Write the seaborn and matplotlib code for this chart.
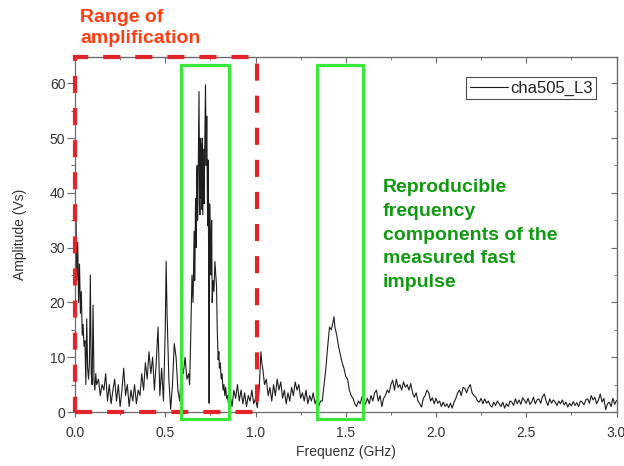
import matplotlib
matplotlib.use("Agg")
import matplotlib.pyplot as plt
import seaborn as sns
import pandas as pd
from matplotlib.patches import Rectangle
from matplotlib.ticker import MultipleLocator

# ---------------- data ----------------
freq_a = [0.000, 0.005, 0.010, 0.015, 0.020, 0.025, 0.030, 0.035, 0.040, 0.045,
          0.050, 0.055, 0.060, 0.065, 0.070, 0.075, 0.080, 0.085, 0.090, 0.095,
          0.100, 0.105, 0.110, 0.115, 0.120]
amp_a = [22, 38, 24, 31, 20, 27, 18, 22, 14, 16,
         12, 13, 5, 17, 8, 6, 9, 25, 7, 5,
         19.5, 6, 4, 7, 5]

freq_b = [0.13, 0.14, 0.15, 0.16, 0.17, 0.18, 0.19, 0.20, 0.21, 0.22, 0.23, 0.24,
          0.25, 0.26, 0.27, 0.28, 0.29, 0.30, 0.31, 0.32, 0.33, 0.34, 0.35, 0.36,
          0.37, 0.38, 0.39, 0.40, 0.41, 0.42, 0.43, 0.44, 0.45, 0.46, 0.47, 0.48,
          0.49, 0.50, 0.505, 0.51, 0.52, 0.53, 0.54, 0.55, 0.56, 0.57, 0.58, 0.59,
          0.60, 0.61, 0.62, 0.63]
amp_b = [6, 3, 5, 4, 7, 2, 5, 1.5, 4, 6, 2, 5,
         1, 4, 8, 3, 5, 1, 4, 2, 5, 1.5, 4, 3,
         7, 4, 9, 6, 11, 7, 10, 4, 9, 15.5, 3, 8,
         2, 15, 27.5, 18, 6, 0.5, 5, 12.5, 10, 4, 2, 8,
         7, 10, 6, 7]

freq_c = [0.635, 0.640, 0.648, 0.654, 0.660, 0.663, 0.665, 0.667, 0.669, 0.671,
          0.673, 0.675, 0.677, 0.679, 0.681, 0.684, 0.687, 0.690, 0.692, 0.693,
          0.695, 0.696, 0.698, 0.700, 0.702, 0.703, 0.705, 0.706, 0.708, 0.710,
          0.712, 0.713, 0.715, 0.716, 0.718, 0.720, 0.723, 0.727, 0.730, 0.733,
          0.735, 0.737, 0.740, 0.743, 0.746, 0.750, 0.754, 0.757, 0.760, 0.765,
          0.770, 0.775, 0.780, 0.784, 0.788, 0.793, 0.797, 0.800, 0.805, 0.810,
          0.815, 0.820, 0.825, 0.830, 0.835, 0.840, 0.845, 0.850, 0.855]
amp_c = [5, 12, 25, 20, 33, 24, 28, 37, 39, 30,
         36, 44, 45, 35, 38, 48, 58.5, 42, 36, 50,
         39, 44, 49, 47, 37, 40, 50, 46, 36, 41,
         47, 48, 38, 43, 45, 52, 59.7, 45, 54, 40,
         34, 46, 30, 1.6, 38, 32, 25, 35, 20, 24,
         22, 27.5, 25, 23, 15, 9.5, 11, 8, 9, 6,
         7, 4, 5, 3, 4.5, 2.5, 3, 1.5, 2]

freq_d = [0.86, 0.87, 0.88, 0.89, 0.90, 0.91, 0.92, 0.93, 0.94, 0.95, 0.96, 0.97,
          0.98, 0.99, 1.00, 1.01, 1.02, 1.03, 1.035, 1.04, 1.05, 1.06, 1.07, 1.08,
          1.09, 1.10, 1.11, 1.12, 1.13, 1.14, 1.15, 1.16, 1.17, 1.18, 1.19, 1.20,
          1.21, 1.22, 1.23, 1.24, 1.25, 1.26, 1.27, 1.28, 1.29, 1.30, 1.31, 1.32,
          1.33, 1.34, 1.35, 1.36, 1.37]
amp_d = [3, 1, 4, 2.5, 5, 2, 4, 1.5, 3.5, 1, 3, 2,
         4, 1.5, 2.5, 0.8, 4, 11, 9, 8, 5, 6, 3, 4.5,
         2, 5, 3, 6, 4, 5.5, 2.5, 4, 1.5, 3.5, 2, 4.5,
         3, 5.5, 4, 5, 2.5, 3.5, 2, 4, 1.5, 3, 2, 3.5,
         1.5, 2.5, 1, 2, 2]

freq_e = [1.38, 1.39, 1.40, 1.41, 1.42, 1.43, 1.435, 1.44, 1.45, 1.46, 1.47, 1.48,
          1.49, 1.50, 1.51, 1.52, 1.53, 1.54, 1.55, 1.56, 1.57, 1.58, 1.59, 1.60]
amp_e = [5, 8, 12, 15.5, 15, 16.5, 17.4, 15.5, 14, 12, 10.5, 9,
         8, 6.5, 6, 4, 3, 2.5, 1.5, 1, 2, 1.5, 2.8, 1]

freq_f = [1.61, 1.62, 1.63, 1.64, 1.65, 1.66, 1.67, 1.68, 1.69, 1.70, 1.71, 1.72,
          1.73, 1.74, 1.75, 1.76, 1.77, 1.78, 1.79, 1.80, 1.81, 1.82, 1.83, 1.84,
          1.85, 1.86, 1.87, 1.88, 1.89, 1.90, 1.91, 1.92, 1.93, 1.94, 1.95, 1.96,
          1.97, 1.98, 1.99, 2.00, 2.01, 2.02, 2.03, 2.04, 2.05, 2.06, 2.07, 2.08,
          2.09, 2.10, 2.11, 2.12, 2.13, 2.14, 2.15, 2.16, 2.17, 2.18, 2.19, 2.20,
          2.21, 2.22, 2.23, 2.24, 2.25, 2.26, 2.27, 2.28, 2.29, 2.30]
amp_f = [1.6, 2.5, 1.5, 3, 2, 3.5, 4, 2, 3, 1, 2.5, 3,
         4, 3.5, 5, 5.8, 4, 6, 4.5, 5, 4, 5.5, 4.5, 5,
         4, 5.2, 3.5, 2.7, 3.5, 2, 1.5, 0.9, 2.5, 3, 4, 3.5,
         2, 2.6, 1.5, 2.5, 1.6, 2, 1, 1.8, 1, 1.5, 0.8, 1.6,
         0.7, 1.8, 2.5, 3.5, 4, 3, 4.5, 4.3, 3.5, 4.5, 5, 3.5,
         3, 2.7, 2, 1.8, 2.5, 1.5, 2.4, 1.6, 2, 1.2]

freq_g = [2.31, 2.32, 2.33, 2.34, 2.35, 2.36, 2.37, 2.38, 2.39, 2.40, 2.41, 2.42,
          2.43, 2.44, 2.45, 2.46, 2.47, 2.48, 2.49, 2.50, 2.51, 2.52, 2.53, 2.54,
          2.55, 2.56, 2.57, 2.58, 2.59, 2.60, 2.61, 2.62, 2.63, 2.64, 2.65, 2.66,
          2.67, 2.68, 2.69, 2.70, 2.71, 2.72, 2.73, 2.74, 2.75, 2.76, 2.77, 2.78,
          2.79, 2.80, 2.81, 2.82, 2.83, 2.84, 2.85, 2.86, 2.87, 2.88, 2.89, 2.90,
          2.91, 2.92, 2.93, 2.94, 2.95, 2.96, 2.97, 2.98, 2.99, 3.00]
amp_g = [0.9, 1.8, 1.2, 2, 1.5, 1, 1.8, 0.7, 1.5, 1, 2, 1.8,
         1.2, 2.4, 1.5, 2.2, 1.4, 2.6, 2.1, 1.6, 2.5, 1.4, 1.8, 2.7,
         1.5, 2.2, 2.4, 1.6, 2.8, 3.3, 2.0, 1.2, 2.4, 1.6, 2.2, 1.8,
         1.2, 2.0, 1.5, 2.2, 1.3, 1.8, 0.9, 1.6, 1.1, 1.9, 1.2, 1.7,
         1.0, 2.0, 1.8, 1.3, 2.2, 2.4, 1.6, 3.0, 2.2, 2.7, 1.5, 2.2,
         3.3, 1.8, 2.5, 0.4, 1.5, 1.8, 1.0, 2.5, 1.4, 2.1]

series_name = "cha505_L3"
x_label = "Frequenz (GHz)"
y_label = "Amplitude (Vs)"
amp_range = (0.0, 1.01)        # red dashed box (GHz)
comp_ranges = [(0.586, 0.854), (1.338, 1.593)]   # green boxes (GHz)
note_red = "Range of\namplification"
note_green = "Reproducible\nfrequency\ncomponents of the\nmeasured fast\nimpulse"

freq = freq_a + freq_b + freq_c + freq_d + freq_e + freq_f + freq_g
amp = amp_a + amp_b + amp_c + amp_d + amp_e + amp_f + amp_g
df = pd.DataFrame({"freq": freq, "amp": amp})

# ---------------- plot ----------------
sns.set_style("ticks")
plt.rcParams["font.family"] = ["Liberation Sans", "DejaVu Sans"]

fig = plt.figure(figsize=(6.24, 4.66), dpi=100)
ax = fig.add_axes([75 / 624, 54 / 466, 541.5 / 624, 355 / 466])

sns.lineplot(data=df, x="freq", y="amp", ax=ax, color="#1e1e1e", lw=0.8,
             estimator=None, sort=False, label=series_name)

ax.set_xlim(0, 3.0)
ax.set_ylim(0, 64.8)
ax.xaxis.set_minor_locator(MultipleLocator(0.25))
ax.yaxis.set_minor_locator(MultipleLocator(5))
ax.set_xticks([0, 0.5, 1.0, 1.5, 2.0, 2.5, 3.0])
ax.set_xticklabels(["0.0", "0.5", "1.0", "1.5", "2.0", "2.5", "3.0"])
ax.set_yticks([0, 10, 20, 30, 40, 50, 60])
ax.set_yticklabels(["0", "10", "20", "30", "40", "50", "60"])

spine_col = "#6a6a6a"
for s in ax.spines.values():
    s.set_color(spine_col)
    s.set_linewidth(0.9)
ax.tick_params(which="both", color=spine_col, direction="out")
ax.tick_params(axis="x", which="major", length=3.5, width=0.8,
               labelsize=10, labelcolor="#333333", pad=6.5)
ax.tick_params(axis="x", which="minor", length=2.5, width=0.7)
ax.tick_params(axis="y", which="major", length=5.5, width=0.8,
               labelsize=10, labelcolor="#333333", pad=1.5)
ax.tick_params(axis="y", which="minor", length=3, width=0.7)

top = ax.secondary_xaxis("top")
top.xaxis.set_major_locator(MultipleLocator(0.5))
top.xaxis.set_minor_locator(MultipleLocator(0.25))
top.tick_params(which="both", direction="in", labeltop=False, color=spine_col)
top.tick_params(which="major", length=4)
top.tick_params(which="minor", length=2.5)
top.spines["top"].set_color(spine_col)
right = ax.secondary_yaxis("right")
right.yaxis.set_major_locator(MultipleLocator(10))
right.yaxis.set_minor_locator(MultipleLocator(5))
right.tick_params(which="both", direction="in", labelright=False, color=spine_col)
right.tick_params(which="major", length=4)
right.tick_params(which="minor", length=2.5)
right.spines["right"].set_color(spine_col)

ax.set_xlabel(x_label, fontsize=10, color="#333333", labelpad=4)
ax.set_ylabel(y_label, fontsize=10, color="#333333", labelpad=16)

leg = ax.legend(loc="upper right", bbox_to_anchor=(0.963, 0.943), fontsize=12,
                frameon=True, fancybox=False, edgecolor="#222222",
                handlelength=2.3, handletextpad=0.15, borderpad=0.2,
                borderaxespad=0)
leg.get_frame().set_linewidth(0.8)
for t in leg.get_texts():
    t.set_color("#222222")

# red dashed box: range of amplification
ax.add_patch(Rectangle((amp_range[0], 0), amp_range[1] - amp_range[0], 64.8,
                       fill=False, edgecolor="#e3242b", lw=3,
                       linestyle=(0, (4.1, 3.6)), clip_on=False, zorder=5))
# green boxes
for x0, x1 in comp_ranges:
    ax.add_patch(Rectangle((x0, -1.3), x1 - x0, 64.6, fill=False,
                           edgecolor="#3ae83a", lw=2.3, clip_on=False, zorder=6))

fig.text(80 / 624, 1 - 9 / 466, note_red, color="#ff3c14", fontsize=14,
         fontweight="bold", va="top", ha="left", linespacing=1.32)
fig.text(383 / 624, 1 - 179 / 466, note_green, color="#0f9a0f", fontsize=14,
         fontweight="bold", va="top", ha="left", linespacing=1.52)

fig.savefig("out.png", dpi=100)
